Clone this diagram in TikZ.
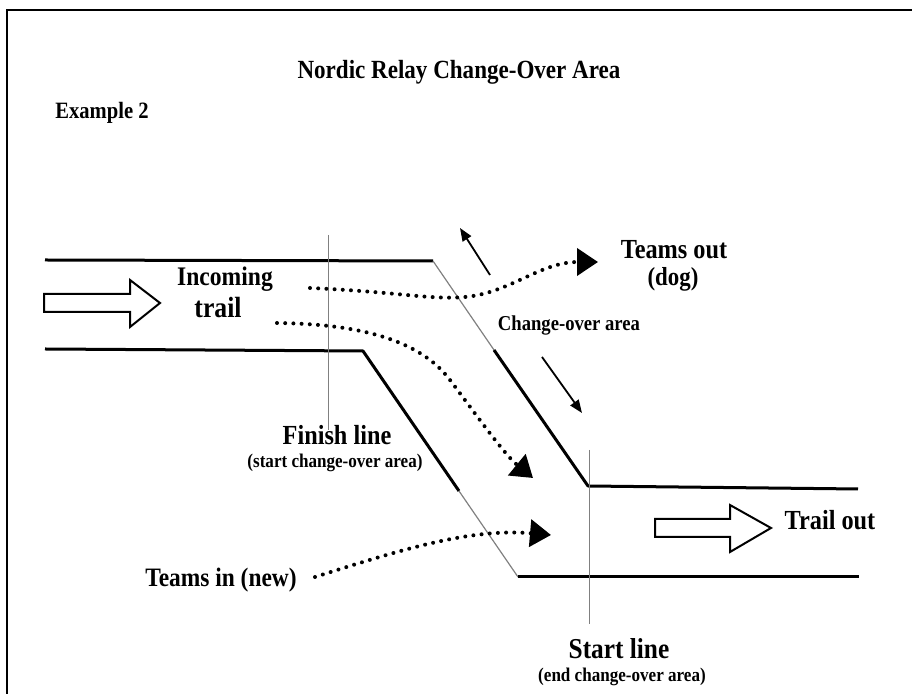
\documentclass[tikz,border=0pt]{standalone}
\usepackage{fontspec}
\setmainfont{Liberation Serif}[FakeStretch=0.88]
\usetikzlibrary{arrows.meta}

\begin{document}
\begin{tikzpicture}[x=0.5pt,y=-0.5pt,
    kant/.style={line width=1.5pt,line join=round},
    tynnkant/.style={line width=0.6pt,gray},
    maallinje/.style={line width=0.5pt,gray},
    flyt/.style={line width=2pt,line cap=round,dash pattern=on 0pt off 4.1pt,-{Triangle[length=10.5pt,width=13.5pt]}},
    pil/.style={line width=0.9pt,-{Triangle[length=6.5pt,width=5pt]}},
    blokkpil/.style={line width=1pt,fill=white,line join=miter},
    tekst/.style={font=\bfseries\fontsize{13.8}{16}\selectfont,inner sep=0pt},
    smaatekst/.style={font=\bfseries\fontsize{9.7}{11}\selectfont,inner sep=0pt}]
    \useasboundingbox (0,0) rectangle (912,694);
    \draw[line width=1pt] (7,694) -- (7,10) -- (912,10); % ramme

    \node[tekst,font=\bfseries\fontsize{13.1}{15}\selectfont] (tittel) at (459,72) {Nordic Relay Change-Over Area};
    \node[tekst,font=\bfseries\fontsize{11.7}{13}\selectfont,anchor=west] (eks) at (55,113) {Example 2};

    \draw[kant] (45,260) -- (433,261); % øvre kant inn
    \draw[tynnkant] (433,261) -- (494,350);
    \draw[kant] (494,350) -- (588,486) -- (858,489); % øvre kant ut
    \draw[kant] (45,349) -- (363,351) -- (459,491); % nedre kant inn
    \draw[tynnkant] (459,491) -- (518,577);
    \draw[kant] (518,577) -- (859,577); % nedre kant ut

    \draw[maallinje] (328,235) -- (328,430); % målstrek
    \draw[maallinje] (589,450) -- (589,624); % startstrek

    \draw[blokkpil] (44,294) -- (130,294) -- (130,280) -- (160,303) -- (130,327) -- (130,312) -- (44,312) -- cycle;
    \draw[blokkpil] (655,519) -- (730,519) -- (730,505) -- (771,528) -- (730,552) -- (730,537) -- (655,537) -- cycle;

    \node[tekst,font=\bfseries\fontsize{13.4}{15}\selectfont] (inn) at (225,279) {Incoming};
    \node[tekst,font=\bfseries\fontsize{14.6}{16}\selectfont] (trail) at (218,308) {trail};
    \node[tekst] (ut) at (674,250) {Teams out};
    \node[tekst,font=\bfseries\fontsize{13}{15}\selectfont] (hund) at (673,279) {(dog)};
    \node[tekst,font=\bfseries\fontsize{10.6}{12}\selectfont] (omraade) at (569,325) {Change-over area};
    \node[tekst] (maal) at (337,435) {Finish line};
    \node[smaatekst] (maalinfo) at (335,463) {(start change-over area)};
    \node[tekst,font=\bfseries\fontsize{13.3}{15}\selectfont] (nye) at (221,580) {Teams in (new)};
    \node[tekst] (trailut) at (830,520) {Trail out};
    \node[tekst,font=\bfseries\fontsize{14.4}{16}\selectfont] (start) at (619,649) {Start line};
    \node[smaatekst] (startinfo) at (622,677) {(end change-over area)};

    \coordinate (a1) at (310,288);
    \coordinate (a2) at (598,262);
    \coordinate (b1) at (277,323);
    \coordinate (b2) at (533,478);
    \coordinate (c1) at (315,577);
    \coordinate (c2) at (551,535);
    \draw[flyt] (a1) .. controls (400,292) and (430,300) .. (465,297) .. controls (510,293) and (540,262) .. (a2); % lag ut
    \draw[flyt] (b1) .. controls (360,324) and (420,340) .. (450,380) .. controls (480,420) and (505,455) .. (b2); % lag inn
    \draw[flyt] (c1) .. controls (400,550) and (470,528) .. (c2); % nye lag

    \coordinate (p1) at (490,275);
    \coordinate (p2) at (460,228);
    \coordinate (q1) at (542,357);
    \coordinate (q2) at (582,413);
    \draw[pil] (p1) -- (p2);
    \draw[pil] (q1) -- (q2);
\end{tikzpicture}
\end{document}
